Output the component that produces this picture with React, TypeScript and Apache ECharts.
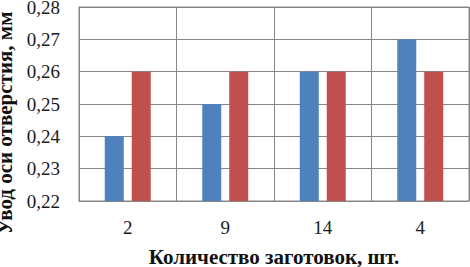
import React, { useEffect, useRef } from "react";
import * as echarts from "echarts";

const categories = ["2", "9", "14", "4"];
const seriesBlue = [0.24, 0.25, 0.26, 0.27];
const seriesRed = [0.26, 0.26, 0.26, 0.26];
const yMin = 0.22;
const yMax = 0.28;
const yStep = 0.01;

export default function App() {
  const ref = useRef<HTMLDivElement>(null);
  useEffect(() => {
    const chart = echarts.init(ref.current!, null, { renderer: "svg" });
    const font = "Times New Roman, Liberation Serif, serif";
    chart.setOption({
      animation: false,
      backgroundColor: "#fff",
      textStyle: { fontFamily: font },
      grid: {
        left: 79,
        right: 1,
        top: 7,
        bottom: 66,
        show: true,
        borderColor: "#868686",
        borderWidth: 1,
        outerBoundsMode: "none",
        containLabel: false,
      },
      xAxis: {
        type: "category",
        data: categories,
        axisLine: { lineStyle: { color: "#868686" } },
        axisTick: { show: false },
        splitLine: { show: true, lineStyle: { color: "#868686" } },
        axisLabel: { color: "#1a1a1a", fontFamily: font, fontSize: 19, margin: 17 },
        name: "Количество заготовок, шт.",
        nameLocation: "middle",
        nameGap: 45,
        nameTextStyle: { color: "#111", fontFamily: font, fontSize: 21, fontWeight: "bold" },
      },
      yAxis: {
        type: "value",
        min: yMin,
        max: yMax,
        interval: yStep,
        axisLine: { show: true, lineStyle: { color: "#868686" } },
        axisTick: { show: false },
        splitLine: { show: true, lineStyle: { color: "#868686" } },
        axisLabel: {
          color: "#1a1a1a",
          fontFamily: font,
          fontSize: 19,
          margin: 19,
          formatter: (v: number) => v.toFixed(2).replace(".", ","),
        },
        name: "Увод оси отверстия, мм",
        nameLocation: "middle",
        nameGap: 60,
        nameTextStyle: {
          color: "#111",
          fontFamily: font,
          fontSize: 21,
          fontWeight: "bold",
          padding: [0, 38, 0, 0],
        },
      },
      series: [
        {
          type: "bar",
          data: seriesBlue,
          itemStyle: { color: "#4F81BD" },
          barWidth: 19,
          barGap: "42%",
        },
        {
          type: "bar",
          data: seriesRed,
          itemStyle: { color: "#C0504D" },
          barWidth: 19,
          barGap: "42%",
        },
      ],
    });
    return () => chart.dispose();
  }, []);
  return (
    <div
      ref={ref}
      style={{ position: "fixed", left: 0, top: 0, width: 470, height: 267 }}
    />
  );
}
